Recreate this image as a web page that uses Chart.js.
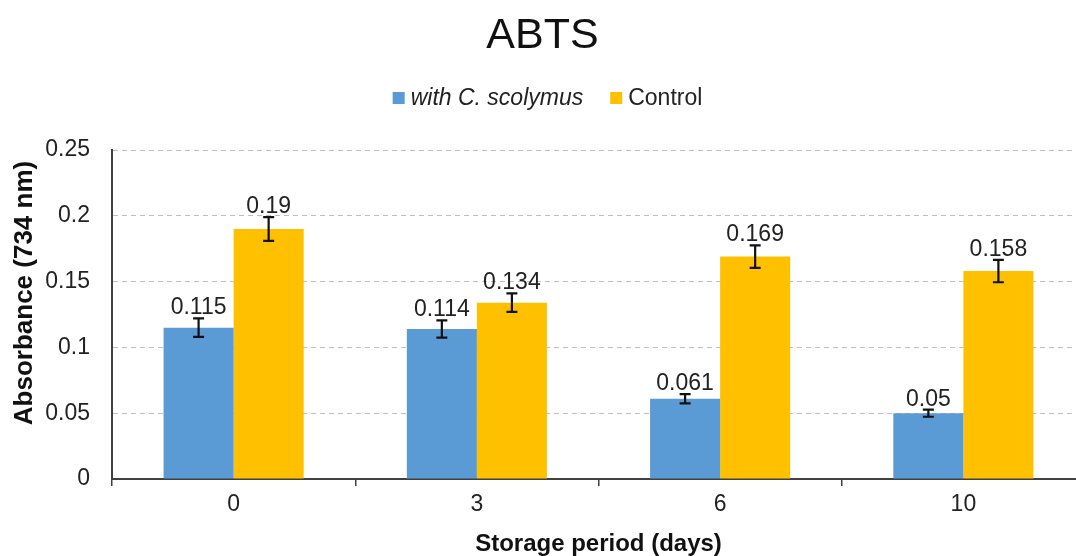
<!DOCTYPE html>
<html>
<head>
<meta charset="utf-8">
<script src="https://cdn.jsdelivr.net/npm/chart.js@4.4.1/dist/chart.umd.min.js"></script>
<style>
  html, body { margin: 0; padding: 0; background: #fff; overflow: hidden; }
  #wrap { width: 1092px; height: 556px; }
</style>
</head>
<body>
<div id="wrap"><canvas id="c" width="1092" height="556"></canvas></div>
<script>
// Storage days on the x axis
const days = ['0', '3', '6', '10'];
// Absorbance at 734 nm, mean values
const withScolymus = [0.115, 0.114, 0.061, 0.05];
const control = [0.19, 0.134, 0.169, 0.158];
// Standard deviations for the error bars
const withScolymusErr = [0.007, 0.0065, 0.0035, 0.0027];
const controlErr = [0.009, 0.007, 0.0085, 0.0085];
// Y axis tick values
const yTicks = [0, 0.05, 0.1, 0.15, 0.2, 0.25];

const seriesNames = ['with C. scolymus', 'Control'];
const seriesColors = ['#5b9bd5', '#ffc000'];
const FONT = '"Liberation Sans", Arial, sans-serif';

// Error bars, value labels, legend and the rotated y-axis title
const overlay = {
  id: 'overlay',
  afterDatasetsDraw(chart) {
    const ctx = chart.ctx;
    const y = chart.scales.y;
    chart.data.datasets.forEach((ds, di) => {
      const meta = chart.getDatasetMeta(di);
      meta.data.forEach((bar, i) => {
        const v = ds.data[i];
        const e = ds.errors[i];
        const yt = y.getPixelForValue(v + e);
        const yb = y.getPixelForValue(v - e);
        const cap = 5.5;
        ctx.save();
        ctx.strokeStyle = '#111';
        ctx.lineWidth = 2.2;
        ctx.beginPath();
        ctx.moveTo(bar.x, yt); ctx.lineTo(bar.x, yb);
        ctx.moveTo(bar.x - cap, yt); ctx.lineTo(bar.x + cap, yt);
        ctx.moveTo(bar.x - cap, yb); ctx.lineTo(bar.x + cap, yb);
        ctx.stroke();
        ctx.font = '23px ' + FONT;
        ctx.fillStyle = '#222';
        ctx.textAlign = 'center';
        ctx.textBaseline = 'alphabetic';
        ctx.fillText(String(v), bar.x, yt - 4);
        ctx.restore();
      });
    });
  },
  afterDraw(chart) {
    const ctx = chart.ctx;
    ctx.save();
    // legend
    const fonts = ['italic 23px ' + FONT, '23px ' + FONT];
    const box = 12, gapText = 6, gapItem = 27;
    const widths = seriesNames.map((n, i) => { ctx.font = fonts[i]; return ctx.measureText(n).width; });
    const total = box + gapText + widths[0] + gapItem + box + gapText + widths[1];
    let x = 547.5 - total / 2;
    const ly = 98;
    seriesNames.forEach((n, i) => {
      ctx.fillStyle = seriesColors[i];
      ctx.fillRect(x, ly - box / 2, box, box);
      x += box + gapText;
      ctx.font = fonts[i];
      ctx.fillStyle = '#222';
      ctx.textAlign = 'left';
      ctx.textBaseline = 'middle';
      ctx.fillText(n, x, ly + 1);
      x += widths[i] + gapItem;
    });
    // y-axis title
    ctx.translate(25, 293);
    ctx.rotate(-Math.PI / 2);
    ctx.font = 'bold 26px ' + FONT;
    ctx.fillStyle = '#111';
    ctx.textAlign = 'center';
    ctx.textBaseline = 'middle';
    ctx.fillText('Absorbance (734 nm)', 0, 0);
    ctx.restore();
  }
};

new Chart(document.getElementById('c'), {
  type: 'bar',
  data: {
    labels: days,
    datasets: [
      { label: seriesNames[0], data: withScolymus, errors: withScolymusErr, backgroundColor: seriesColors[0] },
      { label: seriesNames[1], data: control, errors: controlErr, backgroundColor: seriesColors[1] }
    ]
  },
  options: {
    responsive: false,
    animation: false,
    devicePixelRatio: 1,
    layout: { padding: { left: 0, right: 7, top: 0, bottom: 0 } },
    datasets: { bar: { barPercentage: 1, categoryPercentage: 0.576, borderWidth: 0 } },
    plugins: {
      legend: { display: false },
      tooltip: { enabled: false },
      title: {
        display: true,
        text: 'ABTS',
        color: '#111',
        font: { family: FONT, size: 43, weight: 'normal', lineHeight: 1.2 },
        padding: { top: 10, bottom: 88.4 }
      }
    },
    scales: {
      x: {
        grid: { drawOnChartArea: false, drawTicks: true, tickLength: 7, color: '#404040', lineWidth: 1.5 },
        border: { color: '#404040', width: 2 },
        ticks: { color: '#222', font: { family: FONT, size: 23 }, padding: 5 },
        title: {
          display: true,
          text: 'Storage period (days)',
          color: '#111',
          font: { family: FONT, size: 24, weight: 'bold', lineHeight: 1 },
          padding: { top: 0, bottom: 0 }
        },
        afterFit(s) { s.height = 77; }
      },
      y: {
        min: 0,
        max: 0.25,
        afterBuildTicks(s) { s.ticks = yTicks.map(v => ({ value: v })); },
        grid: {
          drawTicks: false,
          lineWidth: 1,
          color: c => (c.tick && c.tick.value === 0) ? 'rgba(0,0,0,0)' : '#bfbfbf'
        },
        border: { color: '#404040', width: 2, dash: [5, 4] },
        ticks: {
          color: '#222',
          font: { family: FONT, size: 23 },
          padding: 22,
          callback: v => String(v)
        },
        afterFit(s) { s.width = 112; }
      }
    }
  },
  plugins: [overlay]
});
</script>
</body>
</html>
